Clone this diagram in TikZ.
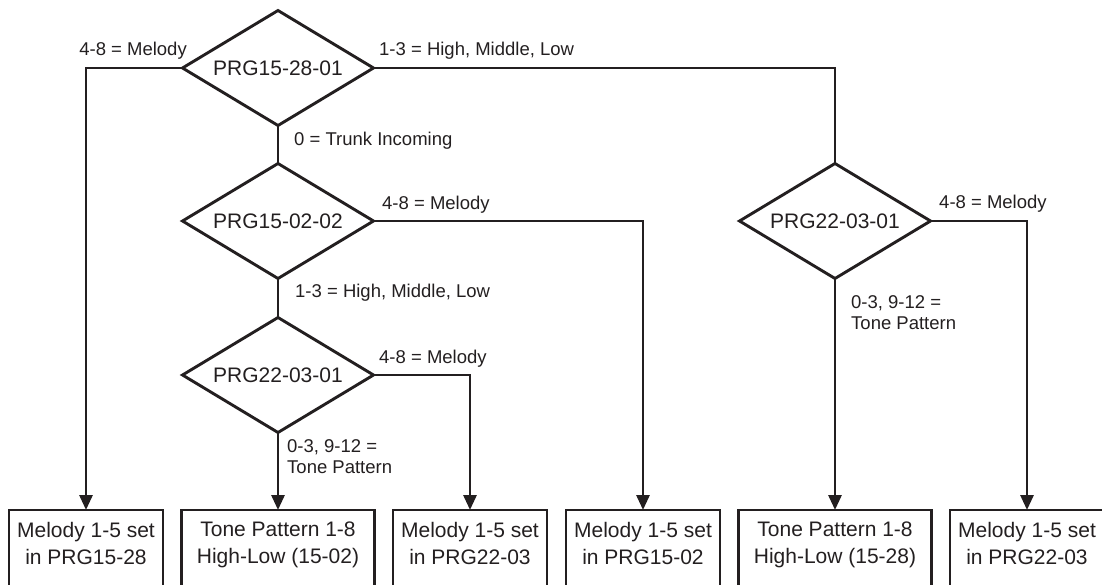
\documentclass[tikz,border=0pt]{standalone}
\usepackage{fontspec}
\setmainfont{Liberation Sans}
\usetikzlibrary{shapes.geometric,arrows.meta}
\definecolor{ink}{RGB}{35,31,32}
\begin{document}
\begin{tikzpicture}[x=1pt,y=-1pt,
  every node/.style={text=ink},
  dec/.style={diamond, aspect=1.66, draw=ink, line width=2.9pt, minimum width=191pt, minimum height=115pt, inner sep=0pt, outer sep=0pt, font=\fontsize{21}{25}\selectfont},
  outbox/.style={rectangle, draw=ink, line width=2.9pt, anchor=north, minimum height=100pt, inner sep=0pt, outer sep=0pt},
  narrow/.style={outbox, minimum width=154pt},
  wide/.style={outbox, minimum width=193pt},
  boxtext/.style={align=center, anchor=north, font=\fontsize{21}{27}\selectfont, inner sep=0pt},
  lbl/.style={font=\fontsize{18.5}{21}\selectfont, inner sep=0pt, align=left},
  conn/.style={draw=ink, line width=2.9pt},
  arr/.style={conn, -{Triangle[width=13pt,length=15pt]}}
]
\path[use as bounding box, clip] (0,0) rectangle (1102,585);

% decisions
\node[dec] (d1) at (278,68) {PRG15-28-01};
\node[dec] (d2) at (278,221) {PRG15-02-02};
\node[dec] (d3) at (278,375) {PRG22-03-01};
\node[dec] (d4) at (835,221) {PRG22-03-01};

% result boxes
\node[narrow] (b1) at (86,510) {};
\node[wide]   (b2) at (278,510) {};
\node[narrow] (b3) at (470,510) {};
\node[narrow] (b4) at (643,510) {};
\node[wide]   (b5) at (835,510) {};
\node[narrow] (b6) at (1027,510) {};

\node[boxtext] (t1) at (86,522) {Melody 1-5 set\\in PRG15-28};
\node[boxtext] (t2) at (278,522) {Tone Pattern 1-8\\High-Low (15-02)};
\node[boxtext] (t3) at (470,522) {Melody 1-5 set\\in PRG22-03};
\node[boxtext] (t4) at (643,522) {Melody 1-5 set\\in PRG15-02};
\node[boxtext] (t5) at (835,522) {Tone Pattern 1-8\\High-Low (15-28)};
\node[boxtext] (t6) at (1027,522) {Melody 1-5 set\\in PRG22-03};

% connectors
\draw[arr]  (d1.west) -| (b1.north);
\draw[conn] (d1.east) -| (d4.north);
\draw[conn] (d1.south) -- (d2.north);
\draw[arr]  (d2.east) -| (b4.north);
\draw[conn] (d2.south) -- (d3.north);
\draw[arr]  (d3.east) -| (b3.north);
\draw[arr]  (d3.south) -- (b2.north);
\draw[arr]  (d4.east) -| (b6.north);
\draw[arr]  (d4.south) -- (b5.north);

% labels
\node[lbl, anchor=base east] (l1) at (187,56) {4-8 = Melody};
\node[lbl, anchor=base west] (l2) at (379,56) {1-3 = High, Middle, Low};
\node[lbl, anchor=base west] (l3) at (294,146) {0 = Trunk Incoming};
\node[lbl, anchor=base west] (l4) at (382,210) {4-8 = Melody};
\node[lbl, anchor=base west] (l5) at (295,297) {1-3 = High, Middle, Low};
\node[lbl, anchor=base west] (l6) at (379,363) {4-8 = Melody};
\node[lbl, anchor=north west] (l7) at (287,439) {0-3, 9-12 =\\Tone Pattern};
\node[lbl, anchor=base west] (l8) at (939,209) {4-8 = Melody};
\node[lbl, anchor=north west] (l9) at (851,295) {0-3, 9-12 =\\Tone Pattern};
\end{tikzpicture}
\end{document}
